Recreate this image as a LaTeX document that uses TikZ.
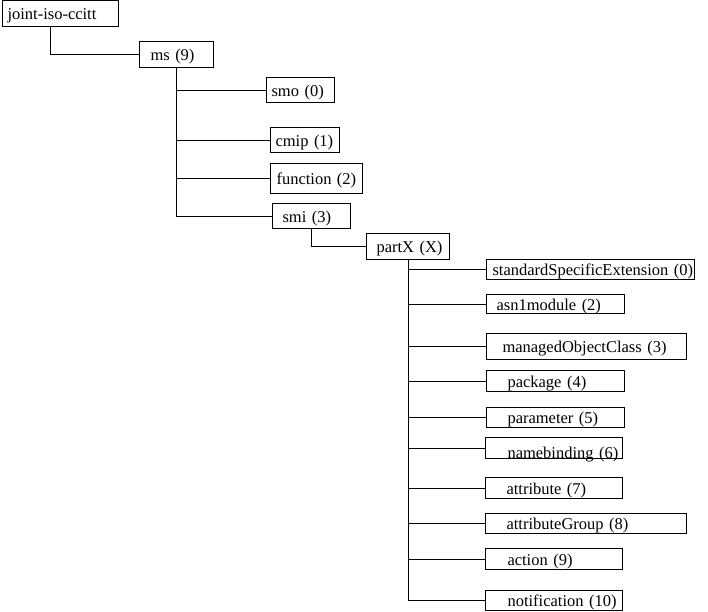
\documentclass[tikz,border=0pt]{standalone}
\usepackage{fontspec}
\setmainfont{Liberation Serif}
\usepackage{tikz}
\newcommand{\oidfont}{\fontsize{16.5}{19}\selectfont}

\begin{document}
\begin{tikzpicture}[
  x=1pt,y=-1pt,
  box/.style={draw,line width=1pt,anchor=north west,inner sep=0pt,align=left,
    text height=15pt,text depth=3pt,font=\oidfont},
  link/.style={draw,line width=1pt}
]
\useasboundingbox (0,0) rectangle (708,611);
% upper levels
\node[box,text width=116pt,minimum height=26pt] (joint) at (2,0) {\hspace*{5pt}joint-iso-ccitt};
\node[box,text width=74pt,minimum height=26pt] (ms) at (139,41) {\hspace*{11pt}ms (9)};
\node[box,text width=68pt,minimum height=25pt] (smo) at (266,77) {\hspace*{5pt}smo (0)};
\node[box,text width=69pt,minimum height=25pt] (cmip) at (270,127) {\hspace*{5pt}cmip (1)};
\node[box,text width=92pt,minimum height=30pt] (function) at (270,163) {\hspace*{6pt}function (2)};
\node[box,text width=78pt,minimum height=25pt] (smi) at (272,203) {\hspace*{10pt}smi (3)};
\node[box,text width=83pt,minimum height=26pt] (partX) at (366,233) {\hspace*{10pt}partX (X)};
% children of partX
\node[box,text width=208pt,minimum height=20pt] (sse) at (486,259) {\hspace*{6pt}standardSpecificExtension (0)};
\node[box,text width=138pt,minimum height=19pt] (asn) at (486,294) {\hspace*{10pt}asn1module (2)};
\node[box,text width=200pt,minimum height=26pt] (moc) at (486,333) {\hspace*{16pt}managedObjectClass (3)};
\node[box,text width=138pt,minimum height=21pt] (package) at (486,370) {\hspace*{21pt}package (4)};
\node[box,text width=138pt,minimum height=20pt] (parameter) at (486,407) {\hspace*{21pt}parameter (5)};
\node[box,text width=137pt,minimum height=21pt] (namebinding) at (485,437) {\hspace*{22pt}\raisebox{-4pt}{namebinding (6)}};
\node[box,text width=137pt,minimum height=21pt] (attribute) at (485,477) {\hspace*{21pt}attribute (7)};
\node[box,text width=201pt,minimum height=20pt] (attrgroup) at (485,513) {\hspace*{21pt}attributeGroup (8)};
\node[box,text width=137pt,minimum height=21pt] (action) at (485,548) {\hspace*{22pt}action (9)};
\node[box,text width=137pt,minimum height=20pt] (notification) at (485,590) {\hspace*{22pt}notification (10)};
% tree lines
\draw[link] (joint.south west) ++(48,0) |- (ms.west);
\draw[link] (ms.south) |- (smi.west);
\foreach \n in {smo,cmip,function}
  \draw[link] (ms.south |- \n.west) -- (\n.west);
\draw[link] (smi.south) |- (partX.west);
\draw[link] (partX.south) |- (notification.west);
\foreach \n in {sse,asn,moc,package,parameter,namebinding,attribute,attrgroup,action}
  \draw[link] (partX.south |- \n.west) -- (\n.west);
\end{tikzpicture}
\end{document}
